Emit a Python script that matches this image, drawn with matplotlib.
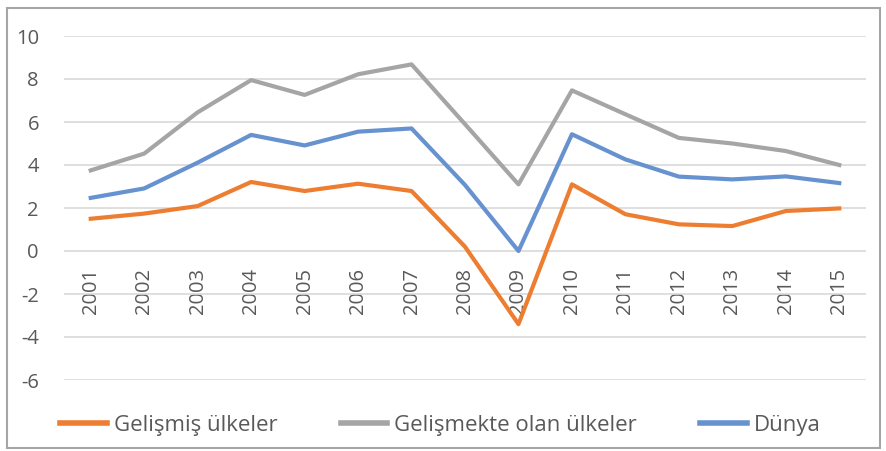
import matplotlib.pyplot as plt
from matplotlib.patches import Rectangle

# Veriler
years = ['2001', '2002', '2003', '2004', '2005', '2006', '2007', '2008',
         '2009', '2010', '2011', '2012', '2013', '2014', '2015']
gelismis = [1.5, 1.74, 2.09, 3.21, 2.79, 3.13, 2.79, 0.2, -3.4, 3.1, 1.71, 1.24, 1.16, 1.86, 1.98]
gelismekte = [3.75, 4.53, 6.45, 7.95, 7.26, 8.22, 8.68, 5.9, 3.1, 7.47, 6.36, 5.26, 5.0, 4.65, 4.0]
dunya = [2.47, 2.91, 4.11, 5.4, 4.91, 5.55, 5.7, 3.07, 0.0, 5.43, 4.26, 3.46, 3.33, 3.47, 3.16]
y_ticks = [-6, -4, -2, 0, 2, 4, 6, 8, 10]

plt.rcParams['font.family'] = ['Open Sans', 'DejaVu Sans']

fig = plt.figure(figsize=(8.86, 4.51), dpi=100)
ax = fig.add_axes([64 / 886, 1 - 380 / 451, (866 - 64) / 886, (380 - 36) / 451])

x = list(range(len(years)))
ax.plot(x, gelismis, color='#ED7D31', lw=3.0, label='Gelişmiş ülkeler', solid_joinstyle='round')
ax.plot(x, gelismekte, color='#A5A5A5', lw=3.0, label='Gelişmekte olan ülkeler', solid_joinstyle='round')
ax.plot(x, dunya, color='#6792D0', lw=3.0, label='Dünya', solid_joinstyle='round')

ax.set_xlim(-0.5, len(years) - 0.5)
ax.set_ylim(-6, 10)
ax.set_yticks(y_ticks)
ax.set_yticklabels([str(v) for v in y_ticks])
ax.set_xticks(x)
ax.set_xticklabels(years)

# yıl etiketleri sıfır çizgisinin altında
ax.spines['bottom'].set_position(('data', 0))
for s in ['top', 'right', 'left', 'bottom']:
    ax.spines[s].set_visible(False)
ax.tick_params(axis='x', length=0, pad=12, labelsize=14.5, labelcolor='#595959', labelrotation=90)
ax.tick_params(axis='y', length=0, pad=18, labelsize=14.5, labelcolor='#595959')
ax.grid(axis='y', color='#D9D9D9', lw=1.2)
ax.set_axisbelow(True)

leg = fig.legend(loc='center', bbox_to_anchor=(0.497, 1 - 425 / 451), ncol=3,
                 frameon=False, fontsize=16, handlelength=2.1, handletextpad=0.3,
                 columnspacing=2.85, labelcolor='#595959')
for h in leg.get_lines():
    h.set_linewidth(4.0)

# dış çerçeve
fig.patches.append(Rectangle((7 / 886, 3 / 451), (880 - 7) / 886, (447 - 7) / 451,
                             transform=fig.transFigure, fill=False,
                             edgecolor='#A6A6A6', lw=1.5))

fig.savefig('out.png', dpi=100)
